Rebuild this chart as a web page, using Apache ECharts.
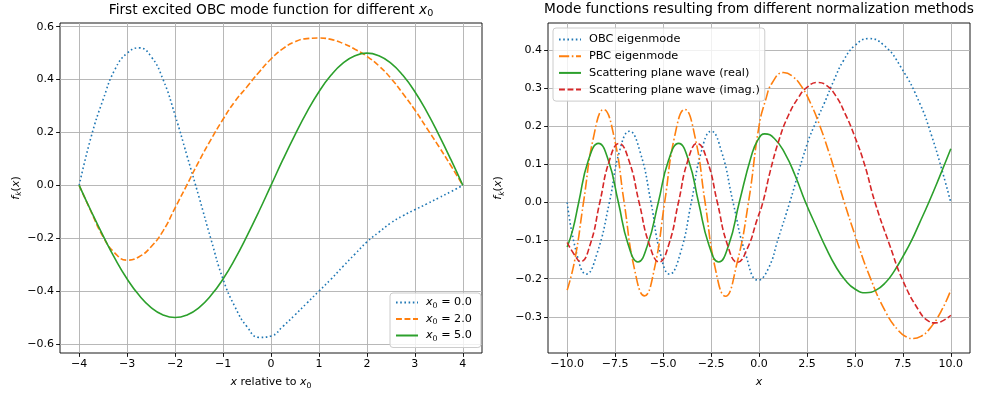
<!DOCTYPE html>
<html>
<head>
<meta charset="utf-8">
<script src="https://cdn.jsdelivr.net/npm/echarts@6.0.0/dist/echarts.min.js"></script>
<style>
html, body { margin: 0; padding: 0; background: #fff; }
#chart { width: 981px; height: 395px; }
</style>
</head>
<body>
<div id="chart"></div>
<script>
// left panel: first excited OBC mode for different x0
const leftX = [-4, -3.75, -3.5, -3.25, -3, -2.75, -2.5, -2.25, -2, -1.75, -1.5, -1.25, -1, -0.75, -0.5, -0.25,
  0, 0.25, 0.5, 0.75, 1, 1.25, 1.5, 1.75, 2, 2.25, 2.5, 2.75, 3, 3.25, 3.5, 3.75, 4];
const modeX0_0 = [0, 0.184, 0.325, 0.44, 0.5, 0.52, 0.487, 0.4, 0.265, 0.111, -0.045, -0.205, -0.355, -0.46, -0.535, -0.575,
  -0.57, -0.533, -0.49, -0.445, -0.4, -0.355, -0.307, -0.26, -0.214, -0.177, -0.142, -0.115, -0.092, -0.07, -0.047, -0.024, 0];
const modeX0_2 = [0, -0.1, -0.195, -0.257, -0.283, -0.27, -0.232, -0.172, -0.085, 0.003, 0.092, 0.174, 0.25, 0.318, 0.373, 0.428,
  0.478, 0.517, 0.543, 0.555, 0.557, 0.552, 0.537, 0.515, 0.488, 0.452, 0.405, 0.347, 0.285, 0.216, 0.147, 0.075, 0];
const modeX0_5 = [0, -0.098, -0.191, -0.278, -0.354, -0.416, -0.462, -0.49, -0.5, -0.49, -0.462, -0.416, -0.354, -0.278, -0.191, -0.098,
  0, 0.098, 0.191, 0.278, 0.354, 0.416, 0.462, 0.49, 0.5, 0.49, 0.462, 0.416, 0.354, 0.278, 0.191, 0.098, 0];
const leftNames = ['x0 = 0.0', 'x0 = 2.0', 'x0 = 5.0'];
const leftXTicks = [-4, -3, -2, -1, 0, 1, 2, 3, 4];
const leftYTicks = [-0.6, -0.4, -0.2, 0, 0.2, 0.4, 0.6];

// right panel: mode functions from different normalizations
const obcX = [-10, -9.5, -9, -8.45, -7.8, -7.28, -6.75, -6.2, -5.63, -5.15, -4.66, -4.1, -3.53, -3.01, -2.49, -1.95, -1.35,
  -0.7, -0.04, 0.5, 1, 1.6, 2.5, 3, 3.4, 3.9, 4.4, 5, 5.72, 6.5, 7.4, 8.4, 9, 9.5, 10];
const obcY = [0, -0.135, -0.188, -0.135, 0, 0.133, 0.187, 0.133, 0, -0.133, -0.188, -0.133, 0, 0.133, 0.187, 0.133, 0,
  -0.135, -0.204, -0.172, -0.095, 0, 0.152, 0.215, 0.26, 0.32, 0.372, 0.412, 0.43, 0.413, 0.355, 0.258, 0.175, 0.092, 0];
const pbcX = [-10, -9.6, -9.15, -8.62, -8.1, -7.56, -7.03, -6.5, -5.97, -5.45, -4.92, -4.4, -3.87, -3.34, -2.81, -2.28, -1.75,
  -1.15, -0.55, 0, 0.35, 0.7, 1.27, 1.75, 2.26, 2.7, 3.13, 3.65, 4.05, 4.45, 5.04, 5.74, 6.61, 7.3, 7.7, 8.05, 8.45, 8.87, 9.48, 10];
const pbcY = [-0.23, -0.15, 0, 0.173, 0.244, 0.173, 0, -0.173, -0.245, -0.173, 0, 0.173, 0.244, 0.173, 0, -0.173, -0.246,
  -0.16, 0, 0.2, 0.27, 0.315, 0.341, 0.331, 0.301, 0.259, 0.207, 0.131, 0.066, 0, -0.091, -0.19, -0.288, -0.338, -0.353, -0.357, -0.351, -0.333, -0.287, -0.23];
const realX = [-10, -9.7, -9.4, -8.9, -8.37, -7.85, -7.33, -6.82, -6.31, -5.8, -5.25, -4.72, -4.19, -3.67, -3.15, -2.62, -2.1,
  -1.57, -1.03, -0.4, -0.05, 0.3, 0.8, 1.35, 1.9, 2.43, 3, 3.48, 4, 4.5, 5, 5.57, 6.1, 6.6, 7.05, 7.5, 7.95, 8.35, 8.85, 9.4, 10];
const realY = [-0.117, -0.07, 0, 0.11, 0.155, 0.11, 0, -0.11, -0.156, -0.11, 0, 0.11, 0.155, 0.11, 0, -0.11, -0.156,
  -0.11, 0, 0.122, 0.165, 0.18, 0.168, 0.129, 0.069, 0, -0.065, -0.118, -0.168, -0.204, -0.227, -0.237, -0.23, -0.21, -0.18, -0.142, -0.1, -0.056, 0, 0.066, 0.141];
const imagX = [-10, -9.65, -9.3, -8.8, -8.3, -7.8, -7.3, -6.78, -6.25, -5.72, -5.2, -4.7, -4.2, -3.71, -3.22, -2.7, -2.17,
  -1.65, -1.12, -0.6, -0.1, 0.2, 0.6, 1.05, 1.5, 2.05, 2.5, 3.04, 3.5, 4, 4.5, 5, 5.5, 6.05, 6.8, 7.5, 8.35, 8.8, 9.2, 9.6, 10];
const imagY = [-0.105, -0.135, -0.155, -0.11, 0, 0.11, 0.155, 0.11, 0, -0.11, -0.156, -0.11, 0, 0.11, 0.155, 0.11, 0,
  -0.11, -0.157, -0.12, -0.045, 0, 0.085, 0.165, 0.225, 0.275, 0.302, 0.315, 0.308, 0.28, 0.232, 0.172, 0.1, 0, -0.11, -0.205, -0.285, -0.31, -0.316, -0.31, -0.296];
const rightNames = ['OBC eigenmode', 'PBC eigenmode', 'Scattering plane wave (real)', 'Scattering plane wave (imag.)'];
const rightXTicks = [-10, -7.5, -5, -2.5, 0, 2.5, 5, 7.5, 10];
const rightYTicks = [-0.3, -0.2, -0.1, 0, 0.1, 0.2, 0.3, 0.4];

const FONT = 'DejaVu Sans';
const BLUE = '#1f77b4', ORANGE = '#ff7f0e', GREEN = '#2ca02c', RED = '#d62728';
const LW = 1.6;
const DOTTED = [1.6, 2.6], DASHED = [5.9, 2.6], DASHDOT = [10.2, 2.6, 1.6, 2.6];

const rich = (fs, lh) => ({
  i: { fontFamily: FONT, fontStyle: 'italic', fontSize: fs, lineHeight: lh, color: '#000' },
  n: { fontFamily: FONT, fontSize: fs, lineHeight: lh, color: '#000' },
  s: { fontFamily: FONT, fontSize: fs * 0.7, lineHeight: fs * 0.7 + 1, verticalAlign: 'bottom', color: '#000' },
  si: { fontFamily: FONT, fontStyle: 'italic', fontSize: fs * 0.7, lineHeight: fs * 0.7 + 1, verticalAlign: 'bottom', color: '#000' }
});

const zip = (xs, ys) => xs.map((x, i) => [x, ys[i]]);
const minus = (s) => s.replace('-', '\u2212');

function xAxis(idx, min, max, ticks, digits, name) {
  return {
    type: 'value', gridIndex: idx, min: min, max: max,
    axisLine: { show: false, onZero: false },
    axisTick: { show: true, customValues: ticks, length: 3.9, lineStyle: { color: '#000', width: 0.9 } },
    axisLabel: { customValues: ticks, margin: 6, color: '#000', fontFamily: FONT, fontSize: 11,
      formatter: v => minus(v.toFixed(digits)) },
    splitLine: { show: true, lineStyle: { color: '#b0b0b0', width: 0.9 } },
    name: name, nameLocation: 'middle', nameGap: 22,
    nameTextStyle: { fontFamily: FONT, fontSize: 11, color: '#000', rich: rich(11, 15) }
  };
}
function yAxis(idx, min, max, ticks, name, gap) {
  return {
    type: 'value', gridIndex: idx, min: min, max: max,
    axisLine: { show: false, onZero: false },
    axisTick: { show: true, customValues: ticks, length: 3.9, lineStyle: { color: '#000', width: 0.9 } },
    axisLabel: { customValues: ticks, margin: 6, color: '#000', fontFamily: FONT, fontSize: 11,
      formatter: v => minus(v.toFixed(1)) },
    splitLine: { show: true, lineStyle: { color: '#b0b0b0', width: 0.9 } },
    name: name, nameLocation: 'middle', nameGap: gap, nameRotate: 90,
    nameTextStyle: { fontFamily: FONT, fontSize: 11, color: '#000', rich: rich(11, 15) }
  };
}
function line(name, data, color, dash, xi) {
  return {
    name: name, type: 'line', xAxisIndex: xi, yAxisIndex: xi, data: data,
    smooth: 0.5, symbol: 'none', animation: false,
    lineStyle: { color: color, width: LW, type: dash },
    itemStyle: { color: color }
  };
}
const legendStyle = {
  orient: 'vertical', itemWidth: 22, itemHeight: 10,
  itemStyle: { opacity: 0 },
  backgroundColor: 'rgba(255,255,255,0.8)', borderColor: '#cccccc', borderWidth: 1, borderRadius: 3
};

const chart = echarts.init(document.getElementById('chart'), null, { renderer: 'canvas' });
chart.setOption({
  animation: false,
  backgroundColor: '#fff',
  title: [
    { text: '{n|First excited OBC mode function for different }{i|x}{s|0}', left: 271, top: 2, textAlign: 'center', padding: 0,
      textStyle: { fontFamily: FONT, fontSize: 13.7, fontWeight: 'normal', color: '#000', rich: rich(13.7, 17) } },
    { text: 'Mode functions resulting from different normalization methods', left: 759, top: 2, textAlign: 'center', padding: 0,
      textStyle: { fontFamily: FONT, fontSize: 13.7, fontWeight: 'normal', color: '#000' } }
  ],
  grid: [
    { left: 60, top: 23, width: 422, height: 330, show: true, borderColor: '#000', borderWidth: 0.9, backgroundColor: 'transparent' },
    { left: 548, top: 23, width: 422, height: 330, show: true, borderColor: '#000', borderWidth: 0.9, backgroundColor: 'transparent' }
  ],
  xAxis: [
    xAxis(0, -4.4, 4.4, leftXTicks, 0, '{i|x}{n| relative to }{i|x}{s|0}'),
    xAxis(1, -11, 11, rightXTicks, 1, '{i|x}')
  ],
  yAxis: [
    yAxis(0, -0.634, 0.614, leftYTicks, '{i|f}{si|k}{n|(}{i|x}{n|)}', 35),
    yAxis(1, -0.395, 0.471, rightYTicks, '{i|f}{si|k}{n|(}{i|x}{n|)}', 42)
  ],
  legend: [
    Object.assign({}, legendStyle, { data: leftNames, left: 390, top: 293, padding: [4, 9, 5, 5], itemGap: 4,
      textStyle: { fontFamily: FONT, fontSize: 11.2, color: '#000', padding: [0, 0, 0, 3], rich: rich(11.2, 14) },
      formatter: name => '{i|x}{s|0}{n| = ' + name.split('= ')[1] + '}' }),
    Object.assign({}, legendStyle, { data: rightNames, left: 553, top: 28, padding: [5, 5, 5, 5], itemGap: 3.7,
      textStyle: { fontFamily: FONT, fontSize: 11.3, lineHeight: 13, color: '#000', padding: [0, 0, 0, 3] } })
  ],
  series: [
    line(leftNames[0], zip(leftX, modeX0_0), BLUE, DOTTED, 0),
    line(leftNames[1], zip(leftX, modeX0_2), ORANGE, DASHED, 0),
    line(leftNames[2], zip(leftX, modeX0_5), GREEN, 'solid', 0),
    line(rightNames[0], zip(obcX, obcY), BLUE, DOTTED, 1),
    line(rightNames[1], zip(pbcX, pbcY), ORANGE, DASHDOT, 1),
    line(rightNames[2], zip(realX, realY), GREEN, 'solid', 1),
    line(rightNames[3], zip(imagX, imagY), RED, DASHED, 1)
  ]
});
</script>
</body>
</html>
